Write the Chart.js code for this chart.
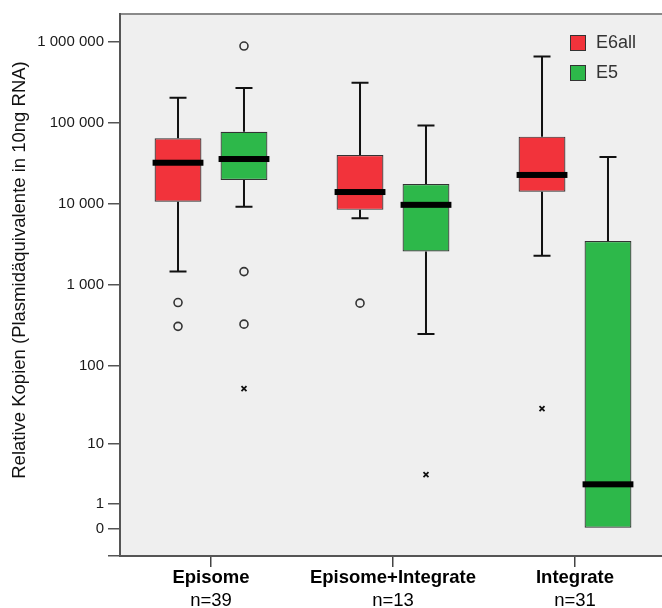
<!DOCTYPE html>
<html>
<head>
<meta charset="utf-8">
<script src="https://cdn.jsdelivr.net/npm/chart.js@4.4.1/dist/chart.umd.min.js"></script>
<style>
  html, body { margin: 0; padding: 0; background: #fff; overflow: hidden; }
  #wrap { width: 666px; height: 608px; }
</style>
</head>
<body>
<div id="wrap"><canvas id="boxChart"></canvas></div>
<script>
// Groups and sample sizes
const groups = ['Episome', 'Episome+Integrate', 'Integrate'];
const groupN = ['n=39', 'n=13', 'n=31'];

// E6all five-number summaries (copies per 10ng RNA)
const e6allMin = [1470, 6700, 2300];
const e6allQ1 = [10700, 8500, 14200];
const e6allMedian = [32400, 14100, 22900];
const e6allQ3 = [65000, 40400, 68000];
const e6allMax = [205000, 315000, 660000];
const e6allOutliers = [[610, 310], [600], []];
const e6allExtremes = [[], [], [29]];

// E5 five-number summaries
const e5Min = [9300, 250, 0];
const e5Q1 = [19800, 2600, 0];
const e5Median = [36000, 9800, 2.5];
const e5Q3 = [78000, 17700, 3500];
const e5Max = [270000, 93000, 38000];
const e5Outliers = [[890000, 1470, 330], [], []];
const e5Extremes = [[52], [3.6], []];

const yTickValues = [0, 1, 10, 100, 1000, 10000, 100000, 1000000];
const yTitle = 'Relative Kopien (Plasmidäquivalente in 10ng RNA)';

const RED = '#f2333b';
const GREEN = '#2db84a';
const FONT = '"Liberation Sans", Arial, sans-serif';

// axis is log10(v + 1) so that zero can be shown
const toAxis = v => Math.log10(v + 1);
const fmt = v => String(v).replace(/\B(?=(\d{3})+(?!\d))/g, ' ');

const stats = [
  { min: e6allMin, q1: e6allQ1, med: e6allMedian, q3: e6allQ3, max: e6allMax, out: e6allOutliers, ext: e6allExtremes },
  { min: e5Min, q1: e5Q1, med: e5Median, q3: e5Q3, max: e5Max, out: e5Outliers, ext: e5Extremes }
];

const boxPlugin = {
  id: 'boxParts',
  beforeDraw(chart) {
    const { ctx, chartArea: a } = chart;
    ctx.save();
    ctx.fillStyle = '#efefef';
    ctx.fillRect(a.left, a.top, a.right - a.left, a.bottom - a.top);
    ctx.strokeStyle = '#8a8a8a';
    ctx.lineWidth = 2;
    ctx.beginPath();
    ctx.moveTo(a.left, a.top);
    ctx.lineTo(a.right, a.top);
    ctx.stroke();
    ctx.restore();
  },
  beforeDatasetsDraw(chart) {
    const { ctx, scales: { y } } = chart;
    ctx.save();
    ctx.strokeStyle = '#111';
    ctx.lineWidth = 2;
    stats.forEach((s, di) => {
      chart.getDatasetMeta(di).data.forEach((bar, i) => {
        const x = bar.x;
        const segs = [[s.q3[i], s.max[i]], [s.q1[i], s.min[i]]];
        segs.forEach(([from, to]) => {
          if (from === to) return;
          const y0 = y.getPixelForValue(toAxis(from));
          const y1 = y.getPixelForValue(toAxis(to));
          ctx.beginPath();
          ctx.moveTo(x, y0);
          ctx.lineTo(x, y1);
          ctx.moveTo(x - 8.5, y1);
          ctx.lineTo(x + 8.5, y1);
          ctx.stroke();
        });
      });
    });
    ctx.restore();
  },
  afterDatasetsDraw(chart) {
    const { ctx, scales: { y } } = chart;
    ctx.save();
    stats.forEach((s, di) => {
      chart.getDatasetMeta(di).data.forEach((bar, i) => {
        const x = bar.x;
        const half = bar.width / 2 + 2;
        // median
        ctx.fillStyle = '#000';
        const ym = y.getPixelForValue(toAxis(s.med[i]));
        ctx.fillRect(x - half, ym - 3, half * 2, 6);
        // outliers
        ctx.strokeStyle = '#333';
        ctx.lineWidth = 1.6;
        s.out[i].forEach(v => {
          const yo = y.getPixelForValue(toAxis(v));
          ctx.beginPath();
          ctx.arc(x, yo, 4, 0, Math.PI * 2);
          ctx.stroke();
        });
        // extremes
        ctx.strokeStyle = '#111';
        ctx.lineWidth = 1.8;
        s.ext[i].forEach(v => {
          const ye = y.getPixelForValue(toAxis(v));
          ctx.beginPath();
          ctx.moveTo(x - 2.5, ye - 2.5);
          ctx.lineTo(x + 2.5, ye + 2.5);
          ctx.moveTo(x + 2.5, ye - 2.5);
          ctx.lineTo(x - 2.5, ye + 2.5);
          ctx.stroke();
        });
      });
    });
    ctx.restore();
  },
  afterDraw(chart) {
    const { ctx, chartArea: a } = chart;
    ctx.save();
    // legend
    const lx = a.right - 96;
    let ly = a.top + 21;
    chart.data.datasets.forEach(ds => {
      ctx.fillStyle = ds.backgroundColor;
      ctx.fillRect(lx, ly, 16, 16);
      ctx.strokeStyle = '#333';
      ctx.lineWidth = 1;
      ctx.strokeRect(lx + 0.5, ly + 0.5, 15, 15);
      ctx.fillStyle = '#333';
      ctx.font = '18px ' + FONT;
      ctx.textBaseline = 'middle';
      ctx.fillText(ds.label, lx + 26, ly + 8.5);
      ly += 30;
    });
    // y axis title, sits a little above the axis centre
    ctx.translate(20, (a.top + a.bottom) / 2 - 15);
    ctx.rotate(-Math.PI / 2);
    ctx.fillStyle = '#111';
    ctx.font = '18.5px ' + FONT;
    ctx.textAlign = 'center';
    ctx.textBaseline = 'middle';
    ctx.fillText(yTitle, 0, 0);
    ctx.restore();
  }
};

const yMin = -0.34, yMax = 6.345;

new Chart(document.getElementById('boxChart'), {
  type: 'bar',
  data: {
    labels: groups,
    datasets: [
      { label: 'E6all', data: e6allQ1.map((q, i) => [toAxis(q), toAxis(e6allQ3[i])]), backgroundColor: RED, borderColor: '#333', borderWidth: 1.2, borderSkipped: false, categoryPercentage: 0.725, barPercentage: 0.71 },
      { label: 'E5', data: e5Q1.map((q, i) => [toAxis(q), toAxis(e5Q3[i])]), backgroundColor: GREEN, borderColor: '#333', borderWidth: 1.2, borderSkipped: false, categoryPercentage: 0.725, barPercentage: 0.71 }
    ]
  },
  options: {
    responsive: true,
    maintainAspectRatio: false,
    animation: false,
    layout: { padding: { top: 14, left: 0, right: 0, bottom: 0 } },
    plugins: { legend: { display: false }, tooltip: { enabled: false } },
    scales: {
      x: {
        type: 'category',
        position: 'bottom',
        grid: { display: true, drawOnChartArea: false, drawTicks: true, tickLength: 11, offset: false, color: '#444', lineWidth: 1.5 },
        border: { display: true, color: '#555', width: 2 },
        ticks: { color: '#000', padding: 0, font: { family: FONT, size: 18.5, weight: 'bold' } },
        afterFit: s => { s.height = 32; }
      },
      x2: {
        type: 'category',
        position: 'bottom',
        labels: groupN,
        grid: { display: false, drawTicks: false },
        border: { display: false },
        ticks: { color: '#000', padding: 2, font: { family: FONT, size: 18.5 } },
        afterFit: s => { s.height = 20; }
      },
      y: {
        type: 'linear',
        min: yMin,
        max: yMax,
        afterBuildTicks: s => {
          s.ticks = [yMin].concat(yTickValues.map(toAxis)).map(v => ({ value: v }));
        },
        afterFit: s => { s.width = 120; },
        grid: { display: true, drawOnChartArea: false, drawTicks: true, tickLength: 12, color: '#555', lineWidth: 1.5 },
        border: { display: true, color: '#555', width: 2 },
        ticks: {
          color: '#1a1a1a',
          padding: 4,
          font: { family: FONT, size: 15 },
          callback: (v, i) => (i === 0 ? '' : fmt(yTickValues[i - 1]))
        }
      }
    }
  },
  plugins: [boxPlugin]
});
</script>
</body>
</html>
